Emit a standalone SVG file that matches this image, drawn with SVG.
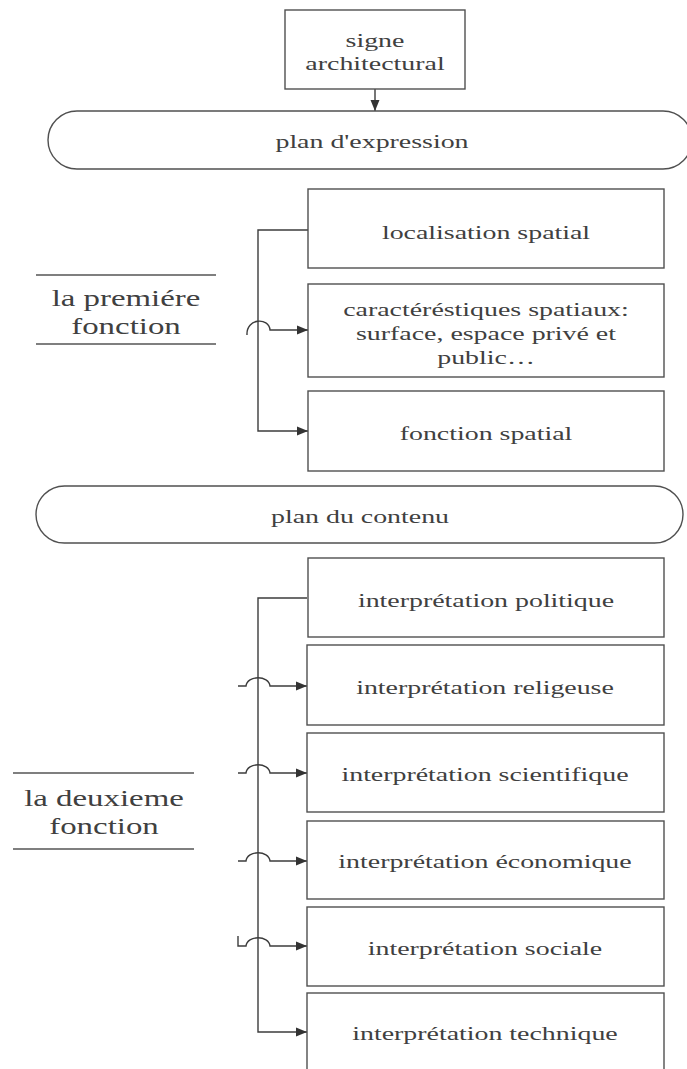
<svg xmlns="http://www.w3.org/2000/svg" width="687" height="1069" viewBox="0 0 687 1069">
  <style>
    .box { fill: #ffffff; stroke: #505050; stroke-width: 1.4; }
    .pill { fill: #ffffff; stroke: #505050; stroke-width: 1.4; }
    .rule { stroke: #555555; stroke-width: 1.6; }
    .wire { fill: none; stroke: #3c3c3c; stroke-width: 1.4; }
    .t { font-family: "Liberation Serif", "DejaVu Serif", serif; font-size: 19.5px; fill: #404040; text-anchor: middle; }
    .lab { font-family: "Liberation Serif", "DejaVu Serif", serif; font-size: 23px; fill: #404040; text-anchor: middle; }
  </style>
  <defs>
    <marker id="arrow" markerUnits="userSpaceOnUse" markerWidth="12" markerHeight="10" refX="11" refY="5" orient="auto">
      <path d="M0,0.5 L11,5 L0,9.5 z" fill="#333333"/>
    </marker>
  </defs>
  <rect width="687" height="1069" fill="#ffffff"/>

  <!-- connectors -->
  <g id="connectors">
    <path class="wire" d="M375,89 L375,111" marker-end="url(#arrow)"/>
    <!-- first group -->
    <path class="wire" d="M308,230 L258,230 L258,431 L308,431" marker-end="url(#arrow)"/>
    <path class="wire" d="M247,335 C246,318 269,317 270,330 L308,330" marker-end="url(#arrow)"/>
    <!-- second group -->
    <path class="wire" d="M307,598 L258,598 L258,1032 L307,1032" marker-end="url(#arrow)"/>
    <path class="wire" d="M238,686 L246,686 C247,675 269,675 270,686 L307,686" marker-end="url(#arrow)"/>
    <path class="wire" d="M238,773 L246,773 C247,762 269,762 270,773 L307,773" marker-end="url(#arrow)"/>
    <path class="wire" d="M238,861 L246,861 C247,850 269,850 270,861 L307,861" marker-end="url(#arrow)"/>
    <path class="wire" d="M238,936 L238,946 L246,946 C247,935 269,935 270,946 L307,946" marker-end="url(#arrow)"/>
  </g>

  <g id="signe-architectural">
    <rect class="box" x="285" y="10" width="180" height="79"/>
    <text class="t" transform="translate(375,0) scale(1.43,1)"><tspan x="0" y="47">signe</tspan><tspan x="0" y="70">architectural</tspan></text>
  </g>

  <g id="plan-expression">
    <rect class="pill" x="48" y="111" width="644" height="58" rx="29" ry="29"/>
    <text class="t" transform="translate(372,148) scale(1.43,1)">plan d'expression</text>
  </g>

  <g id="premiere-fonction">
    <line class="rule" x1="36" y1="275" x2="216" y2="275"/>
    <line class="rule" x1="36" y1="344" x2="216" y2="344"/>
    <text class="lab" transform="translate(126,0) scale(1.43,1)"><tspan x="0" y="306">la premiére</tspan><tspan x="0" y="334">fonction</tspan></text>
  </g>

  <g id="localisation-spatial">
    <rect class="box" x="308" y="189" width="356" height="79"/>
    <text class="t" transform="translate(486,239) scale(1.43,1)">localisation spatial</text>
  </g>

  <g id="caracteristiques-spatiaux">
    <rect class="box" x="308" y="284" width="356" height="93"/>
    <text class="t" transform="translate(486,0) scale(1.43,1)"><tspan x="0" y="316">caractéréstiques spatiaux:</tspan><tspan x="0" y="340">surface, espace privé et</tspan><tspan x="0" y="364">public…</tspan></text>
  </g>

  <g id="fonction-spatial">
    <rect class="box" x="308" y="391" width="356" height="80"/>
    <text class="t" transform="translate(486,440) scale(1.43,1)">fonction spatial</text>
  </g>

  <g id="plan-contenu">
    <rect class="pill" x="36" y="486" width="647" height="57" rx="28.5" ry="28.5"/>
    <text class="t" transform="translate(360,523) scale(1.43,1)">plan du contenu</text>
  </g>

  <g id="deuxieme-fonction">
    <line class="rule" x1="13" y1="773" x2="194" y2="773"/>
    <line class="rule" x1="13" y1="849" x2="194" y2="849"/>
    <text class="lab" transform="translate(104,0) scale(1.43,1)"><tspan x="0" y="806">la deuxieme</tspan><tspan x="0" y="834">fonction</tspan></text>
  </g>

  <g id="interpretation-politique">
    <rect class="box" x="308" y="558" width="356" height="79"/>
    <text class="t" transform="translate(486,607) scale(1.43,1)">interprétation politique</text>
  </g>

  <g id="interpretation-religeuse">
    <rect class="box" x="307" y="645" width="357" height="80"/>
    <text class="t" transform="translate(485,694) scale(1.43,1)">interprétation religeuse</text>
  </g>

  <g id="interpretation-scientifique">
    <rect class="box" x="307" y="733" width="357" height="79"/>
    <text class="t" transform="translate(485,781) scale(1.43,1)">interprétation scientifique</text>
  </g>

  <g id="interpretation-economique">
    <rect class="box" x="307" y="821" width="357" height="78"/>
    <text class="t" transform="translate(485,868) scale(1.43,1)">interprétation économique</text>
  </g>

  <g id="interpretation-sociale">
    <rect class="box" x="307" y="907" width="357" height="79"/>
    <text class="t" transform="translate(485,955) scale(1.43,1)">interprétation sociale</text>
  </g>

  <g id="interpretation-technique">
    <rect class="box" x="307" y="993" width="357" height="82"/>
    <text class="t" transform="translate(485,1040) scale(1.43,1)">interprétation technique</text>
  </g>
</svg>
